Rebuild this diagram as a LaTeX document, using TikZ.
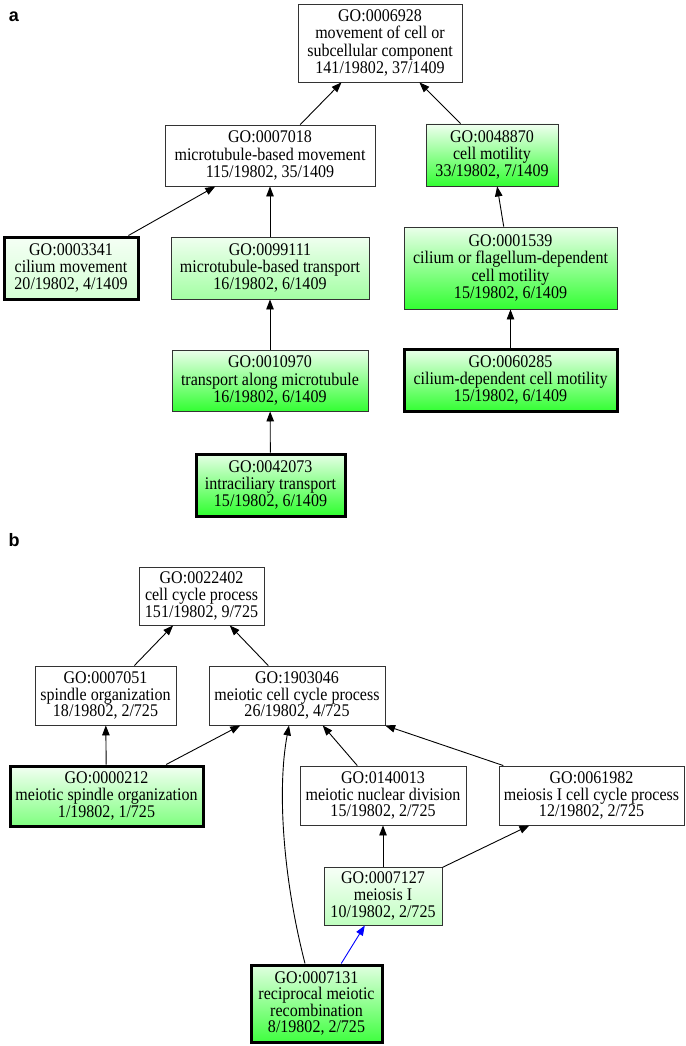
\documentclass[tikz,border=0pt]{standalone}
\usepackage{fontspec}
\setmainfont{Liberation Serif}[FakeStretch=0.9]
\newfontfamily\labelfont{Liberation Sans}
\usetikzlibrary{arrows.meta}
\tikzset{
  goa/.style={draw=black!80, line width=0.9pt, align=center, inner sep=1pt,
    font=\fontsize{17.8}{17.2}\selectfont, fill=white},
  gob/.style={goa, font=\fontsize{17.8}{16.6}\selectfont},
  bold/.style={draw=black, line width=3pt},
  gr/.style 2 args={top color=#1, bottom color=#2},
  sz/.style 2 args={minimum width=#1pt, minimum height=#2pt},
  edge/.style={line width=0.9pt, -{Triangle[length=10pt,width=7.5pt]}},
  panel/.style={font=\labelfont\bfseries\fontsize{18}{18}\selectfont}
}
\begin{document}
\begin{tikzpicture}[x=1pt,y=-1pt]
\useasboundingbox (0,0) rectangle (685,1046);
\fill[white] (0,0) rectangle (685,1046);
% panel labels
\node[panel] (la) at (14,17) {a};
\node[panel] (lb) at (14,540) {b};
% ---------- panel a ----------
\node[goa, sz={164}{78}] (n6928) at (380,43) {GO:0006928\\movement of cell or\\subcellular component\\141/19802, 37/1409};
\node[goa, sz={210}{61}] (n7018) at (270,155.5) {GO:0007018\\microtubule-based movement\\115/19802, 35/1409};
\node[goa, sz={132}{62}, gr={green!6!white}{green!80!white}] (n48870) at (492,155) {GO:0048870\\cell motility\\33/19802, 7/1409};
\node[goa, bold, sz={134}{62}, gr={green!4!white}{green!17!white}] (n3341) at (71,268) {GO:0003341\\cilium movement\\20/19802, 4/1409};
\node[goa, sz={198}{62}, gr={green!6!white}{green!36!white}] (n99111) at (270,268) {GO:0099111\\microtubule-based transport\\16/19802, 6/1409};
\node[goa, sz={213}{82}, gr={green!8!white}{green!80!white}] (n1539) at (510.5,268) {GO:0001539\\cilium or flagellum-dependent\\cell motility\\15/19802, 6/1409};
\node[goa, sz={196}{61}, gr={green!8!white}{green!80!white}] (n10970) at (270,380.5) {GO:0010970\\transport along microtubule\\16/19802, 6/1409};
\node[goa, bold, sz={213}{62}, gr={green!8!white}{green!80!white}] (n60285) at (510.5,380) {GO:0060285\\cilium-dependent cell motility\\15/19802, 6/1409};
\node[goa, bold, sz={149}{62}, gr={green!10!white}{green!82!white}] (n42073) at (270.5,485) {GO:0042073\\intraciliary transport\\15/19802, 6/1409};
\draw[edge] (n7018) -- (n6928);
\draw[edge] (n48870) -- (n6928);
\draw[edge] (n3341) -- (n7018);
\draw[edge] (n99111) -- (n7018);
\draw[edge] (n1539) -- (n48870);
\draw[edge] (n10970) -- (n99111);
\draw[edge] (n60285) -- (n1539);
\draw[edge] (n42073) -- (n10970);
% ---------- panel b ----------
\node[gob, sz={125}{58}] (n22402) at (201.5,596) {GO:0022402\\cell cycle process\\151/19802, 9/725};
\node[gob, sz={141}{59}] (n7051) at (105.5,695.5) {GO:0007051\\spindle organization\\18/19802, 2/725};
\node[gob, sz={176}{59}] (n1903046) at (297,695.5) {GO:1903046\\meiotic cell cycle process\\26/19802, 4/725};
\node[gob, bold, sz={193}{60}, gr={green!5!white}{green!50!white}] (n212) at (106.5,796) {GO:0000212\\meiotic spindle organization\\1/19802, 1/725};
\node[gob, sz={166}{59}] (n140013) at (383,795.5) {GO:0140013\\meiotic nuclear division\\15/19802, 2/725};
\node[gob, sz={185}{59}] (n61982) at (591.5,795.5) {GO:0061982\\meiosis I cell cycle process\\12/19802, 2/725};
\node[gob, sz={118}{58}, gr={green!3!white}{green!25!white}] (n7127) at (383,896) {GO:0007127\\meiosis I\\10/19802, 2/725};
\node[gob, bold, sz={131}{77}, gr={green!12!white}{green!75!white}] (n7131) at (316.5,1003.5) {GO:0007131\\reciprocal meiotic\\recombination\\8/19802, 2/725};
\draw[edge] (n7051) -- (n22402);
\draw[edge] (n1903046) -- (n22402);
\draw[edge] (n212) -- (n7051);
\draw[edge] (n212) -- (n1903046);
\draw[edge] (n140013) -- (n1903046);
\draw[edge] (n61982) -- (n1903046);
\draw[edge] (n7127) -- (n140013);
\draw[edge] (n7127) -- (n61982);
\draw[edge, blue] (n7131) -- (n7127);
\draw[edge] (n7131.106) .. controls +(-22,-85) and +(-12,64) .. (n1903046.255);
\end{tikzpicture}
\end{document}
